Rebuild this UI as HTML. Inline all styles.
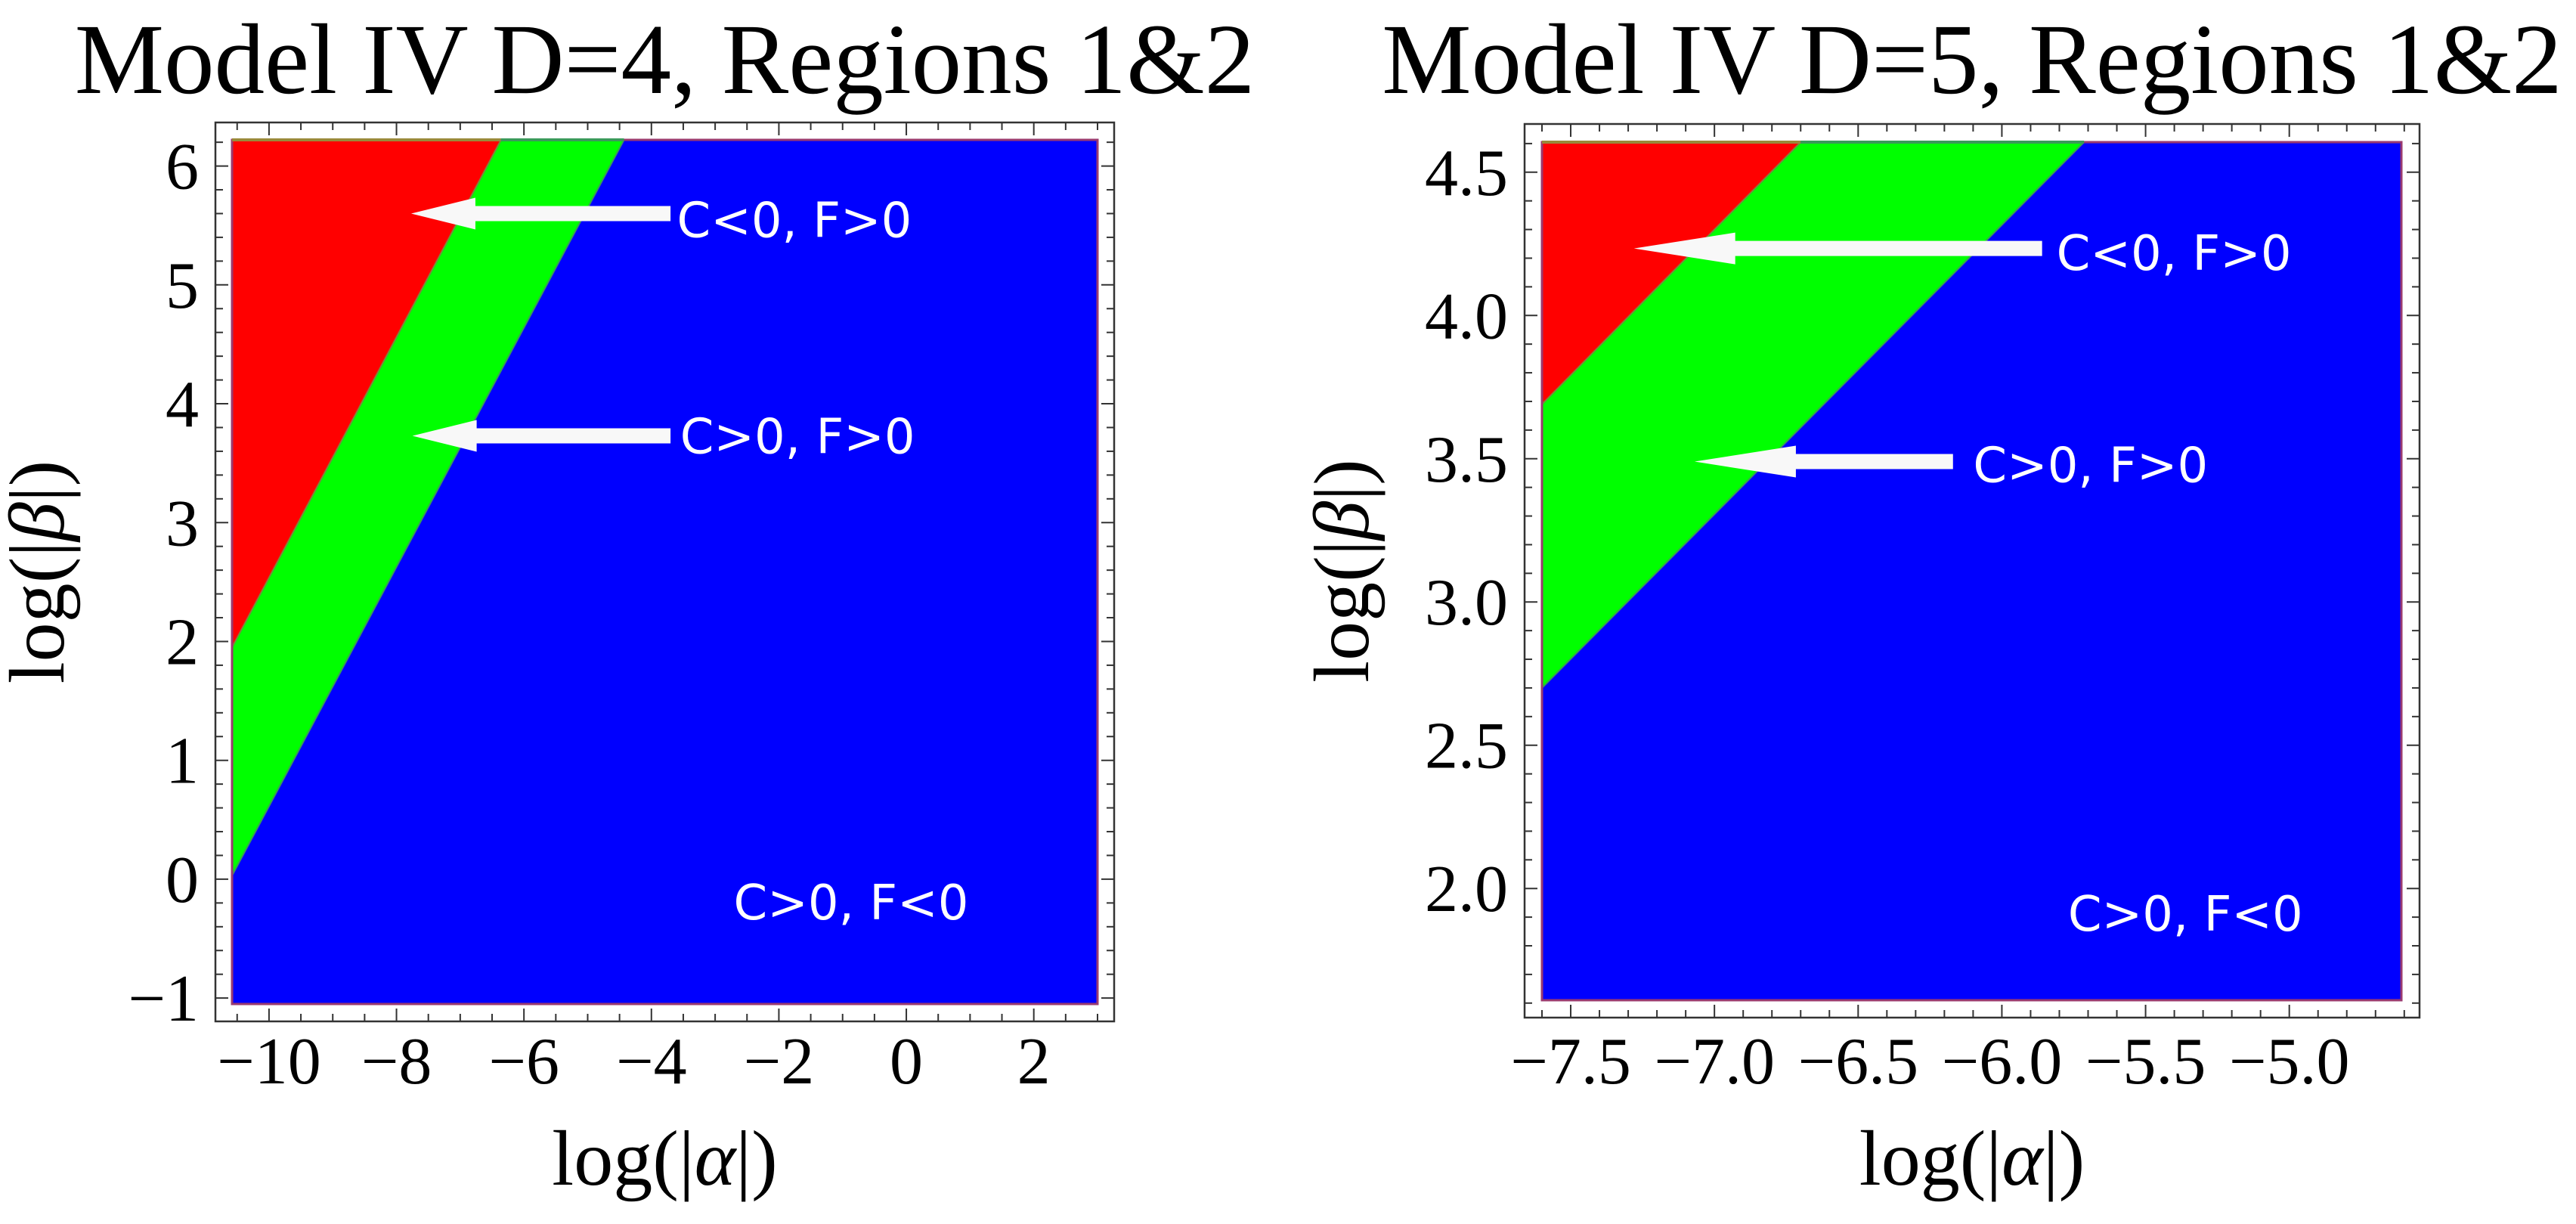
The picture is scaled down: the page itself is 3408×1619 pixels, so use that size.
<!DOCTYPE html>
<html><head><meta charset="utf-8">
<style>
html,body{margin:0;padding:0;background:#fff;}
svg{display:block;}
.serif{font-family:"Liberation Serif",serif;fill:#000;}
.lab{font-family:"DejaVu Sans","Liberation Sans",sans-serif;fill:#fff;font-size:64px;}
</style></head>
<body>
<svg id="chart" width="3408" height="1619" viewBox="0 0 3408 1619" xmlns="http://www.w3.org/2000/svg"></svg>
<script>
// ---- Panel 1 data (D=4) ----
const p1Title = "Model IV D=4, Regions 1&2";
const p1XRange = [-10.58, 3.0];
const p1YRange = [-1.05, 6.22];
const p1XTicks = [-10, -8, -6, -4, -2, 0, 2];
const p1XTickLabels = ["\u221210", "\u22128", "\u22126", "\u22124", "\u22122", "0", "2"];
const p1YTicks = [-1, 0, 1, 2, 3, 4, 5, 6];
const p1YTickLabels = ["\u22121", "0", "1", "2", "3", "4", "5", "6"];
const p1RedBoundary = [[-10.58, 1.95], [-6.36, 6.22]];
const p1GreenBoundary = [[-10.58, 0.03], [-4.43, 6.22]];
const p1Arrows = [[-3.7, 5.6, -7.77, 5.6], [-3.7, 3.73, -7.75, 3.73]];
const p1Labels = [["C<0, F>0", -3.6, 5.55], ["C>0, F>0", -3.55, 3.73], ["C>0, F<0", -2.71, -0.19]];
// ---- Panel 2 data (D=5) ----
const p2Title = "Model IV D=5, Regions 1&2";
const p2XRange = [-7.6, -4.61];
const p2YRange = [1.61, 4.605];
const p2XTicks = [-7.5, -7.0, -6.5, -6.0, -5.5, -5.0];
const p2XTickLabels = ["\u22127.5", "\u22127.0", "\u22126.5", "\u22126.0", "\u22125.5", "\u22125.0"];
const p2YTicks = [2.0, 2.5, 3.0, 3.5, 4.0, 4.5];
const p2YTickLabels = ["2.0", "2.5", "3.0", "3.5", "4.0", "4.5"];
const p2RedBoundary = [[-7.6, 3.69], [-6.70, 4.605]];
const p2GreenBoundary = [[-7.6, 2.70], [-5.714, 4.605]];
const p2Arrows = [[-5.86, 4.234, -7.28, 4.234], [-6.17, 3.49, -7.069, 3.49]];
const p2Labels = [["C<0, F>0", -5.81, 4.22], ["C>0, F>0", -6.1, 3.48], ["C>0, F<0", -5.77, 1.914]];

const NS = "http://www.w3.org/2000/svg";
const svg = document.getElementById('chart');
function mk(tag, attrs, parent) {
  const e = document.createElementNS(NS, tag);
  for (const k in attrs) e.setAttribute(k, attrs[k]);
  (parent || svg).appendChild(e);
  return e;
}

function panel(cfg) {
  const g = mk('g', {});
  
  
  const [x0, x1] = cfg.xr, [y0, y1] = cfg.yr;
  const sx = v => cfg.pl + (v - x0) / (x1 - x0) * (cfg.pr - cfg.pl);
  const sy = v => cfg.pb - (v - y0) / (y1 - y0) * (cfg.pb - cfg.pt);
  const invx = p => x0 + (p - cfg.pl) / (cfg.pr - cfg.pl) * (x1 - x0);
  const invy = p => y0 + (cfg.pb - p) / (cfg.pb - cfg.pt) * (y1 - y0);

  const t = mk('text', {x: (cfg.fl + cfg.fr) / 2, y: 123, 'text-anchor': 'middle', class: 'serif', 'font-size': 133}, g);
  t.textContent = cfg.title;
  
  

  const fr = mk('rect', {x: cfg.fl, y: cfg.ft, width: cfg.fr - cfg.fl, height: cfg.fb - cfg.ft, fill: 'none', stroke: '#333', 'stroke-width': 2.5}, g);
  
  

  const blue = mk('rect', {x: sx(x0), y: sy(y1), width: sx(x1) - sx(x0), height: sy(y0) - sy(y1), fill: '#0000ff'}, g);
  
  
  const rb = cfg.red, gb = cfg.green;
  const greenPts = [[x0, gb[0][1]], [x0, rb[0][1]], [rb[1][0], y1], [gb[1][0], y1]];
  const gp = mk('polygon', {points: greenPts.map(p => sx(p[0]) + ',' + sy(p[1])).join(' '), fill: '#00ff00', stroke: '#3a9a5a', 'stroke-width': 2}, g);
  
  
  const redPts = [[x0, rb[0][1]], [x0, y1], [rb[1][0], y1]];
  const rp = mk('polygon', {points: redPts.map(p => sx(p[0]) + ',' + sy(p[1])).join(' '), fill: '#ff0000', stroke: '#7a8a3a', 'stroke-width': 2}, g);
  
  
  const pb = mk('rect', {x: sx(x0), y: sy(y1), width: sx(x1) - sx(x0), height: sy(y0) - sy(y1), fill: 'none', stroke: '#9a3a70', 'stroke-width': 3}, g);
  
  
  const tb1 = mk('line', {x1: sx(x0), y1: sy(y1), x2: sx(rb[1][0]), y2: sy(y1), stroke: '#9a8a3a', 'stroke-width': 4}, g);
  
  
  const tb2 = mk('line', {x1: sx(rb[1][0]), y1: sy(y1), x2: sx(gb[1][0]), y2: sy(y1), stroke: '#3a9a5a', 'stroke-width': 4}, g);
  
  

  const eps = 1e-6;
  const xa = invx(cfg.fl), xb = invx(cfg.fr);
  for (let v = Math.ceil(xa / cfg.xminor - eps) * cfg.xminor; v <= xb + eps; v += cfg.xminor) {
    const major = Math.abs(v / cfg.xmajor - Math.round(v / cfg.xmajor)) < 1e-4;
    const L = major ? 17 : 10, X = sx(v);
    const a = mk('line', {x1: X, y1: cfg.fb, x2: X, y2: cfg.fb - L, stroke: '#333', 'stroke-width': 2}, g);
    
    
    const b = mk('line', {x1: X, y1: cfg.ft, x2: X, y2: cfg.ft + L, stroke: '#333', 'stroke-width': 2}, g);
    
    
  }
  const ya = invy(cfg.fb), yb = invy(cfg.ft);
  for (let v = Math.ceil(ya / cfg.yminor - eps) * cfg.yminor; v <= yb + eps; v += cfg.yminor) {
    const major = Math.abs(v / cfg.ymajor - Math.round(v / cfg.ymajor)) < 1e-4;
    const L = major ? 17 : 10, Y = sy(v);
    const a = mk('line', {x1: cfg.fl, y1: Y, x2: cfg.fl + L, y2: Y, stroke: '#333', 'stroke-width': 2}, g);
    
    
    const b = mk('line', {x1: cfg.fr, y1: Y, x2: cfg.fr - L, y2: Y, stroke: '#333', 'stroke-width': 2}, g);
    
    
  }
  cfg.xt.forEach((v, i) => {
    const e = mk('text', {x: sx(v), y: 1433, 'text-anchor': 'middle', class: 'serif', 'font-size': 88}, g);
    e.textContent = cfg.xtl[i];
    
    
  });
  cfg.yt.forEach((v, i) => {
    const e = mk('text', {x: cfg.fl - 22, y: sy(v) + 30, 'text-anchor': 'end', class: 'serif', 'font-size': 88}, g);
    e.textContent = cfg.ytl[i];
    
    
  });
  const xt = mk('text', {x: (cfg.fl + cfg.fr) / 2, y: 1567, 'text-anchor': 'middle', class: 'serif', 'font-size': 104}, g);
  xt.innerHTML = 'log(|<tspan font-style="italic">\u03b1</tspan>|)';
  
  
  const cy = (cfg.ft + cfg.fb) / 2;
  const yt = mk('text', {x: cfg.ylx, y: cy, 'text-anchor': 'middle', class: 'serif', 'font-size': 104, transform: 'rotate(-90 ' + cfg.ylx + ' ' + cy + ')'}, g);
  yt.innerHTML = 'log(|<tspan font-style="italic">\u03b2</tspan>|)';
  
  

  cfg.arrows.forEach(a => {
    const xs = sx(a[0]), xe = sx(a[2]), y = sy(a[1]);
    const hl = cfg.headLen, hh = 21, sh = 10;
    const pts = [[xs, y - sh], [xe + hl, y - sh], [xe + hl, y - hh], [xe, y], [xe + hl, y + hh], [xe + hl, y + sh], [xs, y + sh]];
    const p = mk('polygon', {points: pts.map(q => q.join(',')).join(' '), fill: '#f8f8f8'}, g);
    
    
  });
  cfg.labels.forEach(l => {
    const e = mk('text', {x: sx(l[1]), y: sy(l[2]) + 23, class: 'lab'}, g);
    e.textContent = l[0];
    
    
  });
}

panel({name: 'panel-d4', title: p1Title, xr: p1XRange, yr: p1YRange,
  pl: 307, pr: 1452, pt: 185, pb: 1328, fl: 285, fr: 1474, ft: 162, fb: 1351,
  xt: p1XTicks, xtl: p1XTickLabels, yt: p1YTicks, ytl: p1YTickLabels,
  xminor: 0.5, xmajor: 2, yminor: 0.2, ymajor: 1,
  red: p1RedBoundary, green: p1GreenBoundary, arrows: p1Arrows, labels: p1Labels,
  headLen: 85, ylx: 84});
panel({name: 'panel-d5', title: p2Title, xr: p2XRange, yr: p2YRange,
  pl: 2040, pr: 3177, pt: 188, pb: 1323, fl: 2017, fr: 3201, ft: 164, fb: 1346,
  xt: p2XTicks, xtl: p2XTickLabels, yt: p2YTicks, ytl: p2YTickLabels,
  xminor: 0.1, xmajor: 0.5, yminor: 0.1, ymajor: 0.5,
  red: p2RedBoundary, green: p2GreenBoundary, arrows: p2Arrows, labels: p2Labels,
  headLen: 134, ylx: 1810});
</script>
</body></html>
